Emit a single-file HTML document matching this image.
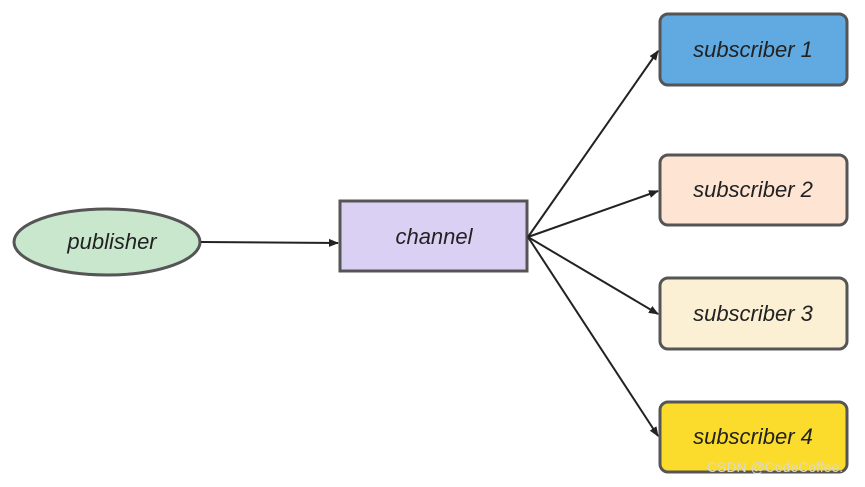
<!DOCTYPE html>
<html><head><meta charset="utf-8"><style>
html,body{margin:0;padding:0;background:#fff;}
svg text{font-family:"Liberation Sans",sans-serif;font-style:italic;font-size:22px;fill:#222;}
</style></head><body>
<svg width="865" height="482" viewBox="0 0 865 482" xmlns="http://www.w3.org/2000/svg">
<defs><marker id="a" markerWidth="10" markerHeight="10" refX="9" refY="5" orient="auto" markerUnits="userSpaceOnUse"><path d="M0,1 L10,5 L0,9 z" fill="#222"/></marker></defs>
<g stroke="#555" stroke-width="3">
<ellipse cx="107" cy="242" rx="93" ry="33" fill="#c9e7cc"/>
<rect x="340" y="201" width="187" height="70" fill="#dad0f3"/>
<rect x="660" y="14" width="187" height="71" rx="8" fill="#60a9e1"/>
<rect x="660" y="155" width="187" height="70" rx="8" fill="#fde4d3"/>
<rect x="660" y="278" width="187" height="71" rx="8" fill="#fbf0d3"/>
<rect x="660" y="402" width="187" height="70" rx="8" fill="#fbdc2d"/>
</g>
<g stroke="#222" stroke-width="2" fill="none" marker-end="url(#a)">
<line x1="201" y1="242" x2="338" y2="243"/>
<line x1="528" y1="237" x2="658" y2="51"/>
<line x1="528" y1="237" x2="658" y2="191"/>
<line x1="528" y1="237" x2="658" y2="314"/>
<line x1="528" y1="237" x2="658" y2="436"/>
</g>
<text x="112" y="249" text-anchor="middle">publisher</text>
<text x="434" y="244" text-anchor="middle">channel</text>
<text x="753" y="57" text-anchor="middle">subscriber 1</text>
<text x="753" y="197" text-anchor="middle">subscriber 2</text>
<text x="753" y="321" text-anchor="middle">subscriber 3</text>
<text x="753" y="444" text-anchor="middle">subscriber 4</text>
<text x="707" y="472" style="font-style:normal;font-size:14px;fill:#d8d8d8">CSDN @CodeCoffee:</text>
</svg>
</body></html>
